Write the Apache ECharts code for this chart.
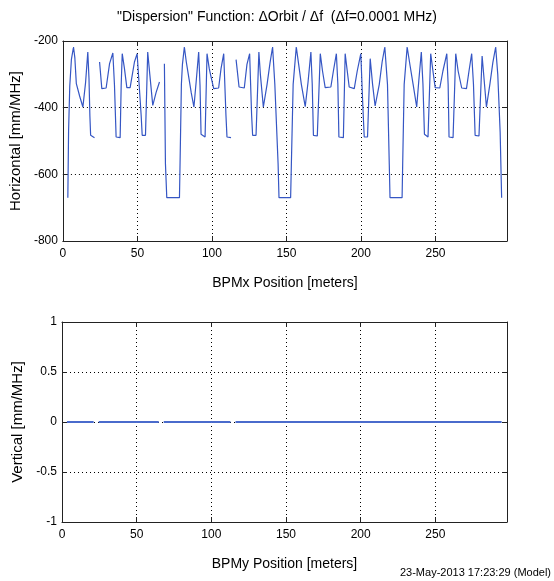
<!DOCTYPE html>
<html>
<head>
<meta charset="utf-8">
<script src="https://cdn.jsdelivr.net/npm/echarts@6/dist/echarts.min.js"></script>
<style>
html,body{margin:0;padding:0;background:#fff;}
#chart{width:554px;height:581px;}
</style>
</head>
<body>
<div id="chart"></div>
<script>
// BPM positions [m]; null marks a missing BPM (gap in the line)
var bpmX = [
  3.3,3.8,4.6,5.7,7.1,8.0,9.0,11.2,13.4,15.2,16.7,17.5,18.1,18.6,21.2,null,
  24.6,26.1,29.0,31.3,33.5,34.6,35.7,38.4,39.1,39.8,41.3,42.9,45.1,48.0,49.8,52.5,53.2,55.4,56.9,58.3,60.3,62.5,64.8,null,
  68.1,68.8,69.7,78.2,
  78.6,79.5,80.2,81.5,82.8,84.6,86.1,87.9,89.4,91.1,92.0,92.7,95.4,96.7,98.2,99.5,101.2,104.5,106.1,107.9,109.4,110.1,112.8,null,
  116.2,118.2,121.7,123.5,125.3,126.6,127.3,129.6,131.5,132.5,134.5,137.0,139.0,140.7,142.2,144.4,145.0,152.8,
  153.3,154.5,156.6,158.2,160.0,162.6,164.5,166.4,167.3,168.1,170.7,172.7,174.2,176.0,179.8,181.5,183.5,184.5,185.2,188.2,
  189.4,190.8,192.1,195.5,197.5,199.9,201.3,202.2,204.4,206.2,207.8,209.5,212.3,214.2,216.0,217.8,219.0,219.5,227.6,
  228.0,229.0,231.0,233.0,235.0,237.4,238.8,240.5,241.6,242.6,245.0,246.8,248.3,249.8,252.9,255.0,257.6,258.5,259.1,261.8,
  263.6,265.2,267.6,270.8,272.5,274.3,275.5,276.6,279.2,281.3,284.2,286.5,288.5,290.4,291.8,293.4,294.4
];
// Horizontal dispersion [mm/MHz]
var horiz = [
  -670,-470,-335,-255,-218,-250,-328,-365,-398,-325,-233,-313,-425,-483,-490,null,
  -263,-343,-341,-268,-236,-333,-488,-490,-333,-238,-283,-340,-340,-263,-238,-423,-483,-483,-233,-300,-393,-355,-323,null,
  -268,-568,-670,-670,
  -568,-330,-270,-218,-263,-313,-355,-398,-323,-233,-333,-480,-488,-238,-283,-310,-343,-341,-283,-238,-423,-488,-490,null,
  -256,-338,-341,-270,-238,-420,-483,-483,-233,-300,-398,-330,-265,-218,-330,-570,-670,-670,
  -570,-330,-218,-270,-330,-397,-323,-233,-330,-483,-485,-238,-290,-340,-338,-290,-238,-330,-488,-490,
  -238,-290,-338,-343,-290,-238,-400,-488,-488,-253,-330,-395,-330,-263,-218,-330,-570,-670,-670,
  -570,-330,-218,-275,-330,-398,-320,-233,-330,-480,-488,-238,-290,-340,-341,-290,-238,-330,-488,-490,
  -238,-290,-341,-343,-290,-238,-330,-483,-485,-245,-398,-330,-265,-218,-300,-473,-670
];
// Vertical dispersion [mm/MHz] (flat zero, same BPMs and gaps)
var vert = bpmX.map(function (x) { return x === null ? null : 0; });

var xTicks = [0, 50, 100, 150, 200, 250];
var hTicks = [-800, -600, -400, -200];
var vTicks = [-1, -0.5, 0, 0.5, 1];

function pairs(xs, ys) {
  return xs.map(function (x, i) {
    return (x === null || ys[i] === null) ? ['-', '-'] : [x, ys[i]];
  });
}

var FONT = "'Liberation Sans Narrow','Liberation Sans',Arial,sans-serif";
var AX = '#222';
var LINE = '#3556c4';

function xAx(gi, pos, labels, name) {
  return {
    type: 'value', gridIndex: gi, position: pos, min: 0, max: 298, interval: 50,
    axisLine: {show: true, onZero: false, lineStyle: {color: AX, width: 1}},
    axisTick: {show: true, inside: true, length: 5, lineStyle: {color: AX}},
    axisLabel: {show: labels, color: '#000', fontSize: 12, fontFamily: FONT, margin: 7,
      formatter: function (v) { return xTicks.indexOf(v) >= 0 ? String(v) : ''; }},
    splitLine: {show: labels, lineStyle: {color: '#000', type: [1, 3], width: 1}},
    name: labels ? name : '', nameLocation: 'middle', nameGap: 35,
    nameTextStyle: {color: '#000', fontSize: 14, fontFamily: FONT}
  };
}
function yAx(gi, pos, labels, mn, mx, iv, name, ticks) {
  return {
    type: 'value', gridIndex: gi, position: pos, min: mn, max: mx, interval: iv,
    axisLine: {show: true, onZero: false, lineStyle: {color: AX, width: 1}},
    axisTick: {show: true, inside: true, length: 5, lineStyle: {color: AX}},
    axisLabel: {show: labels, color: '#000', fontSize: 12, fontFamily: FONT, margin: 5,
      formatter: function (v) { return ticks.indexOf(v) >= 0 ? String(v) : ''; }},
    splitLine: {show: labels, lineStyle: {color: '#000', type: [1, 3], width: 1}},
    name: labels ? name : '', nameLocation: 'middle', nameGap: 37,
    nameTextStyle: {color: '#000', fontSize: 15, fontFamily: FONT}
  };
}

var chart = echarts.init(document.getElementById('chart'), null, {renderer: 'canvas'});
chart.setOption({
  animation: false,
  backgroundColor: '#fff',
  grid: [
    {left: 62, right: 47, top: 41, height: 200},
    {left: 62, right: 47, top: 322, height: 200}
  ],
  xAxis: [
    xAx(0, 'bottom', true, 'BPMx Position [meters]'),
    xAx(0, 'top', false, ''),
    xAx(1, 'bottom', true, 'BPMy Position [meters]'),
    xAx(1, 'top', false, '')
  ],
  yAxis: [
    yAx(0, 'left', true, -800, -200, 200, 'Horizontal [mm/MHz]', hTicks),
    yAx(0, 'right', false, -800, -200, 200, '', hTicks),
    yAx(1, 'left', true, -1, 1, 0.5, 'Vertical [mm/MHz]', vTicks),
    yAx(1, 'right', false, -1, 1, 0.5, '', vTicks)
  ],
  series: [
    {type: 'line', xAxisIndex: 0, yAxisIndex: 0, data: pairs(bpmX, horiz), z: 5,
     showSymbol: false, connectNulls: false, lineStyle: {color: LINE, width: 1.2}},
    {type: 'line', xAxisIndex: 2, yAxisIndex: 2, data: pairs(bpmX, vert), z: 5,
     showSymbol: false, connectNulls: false, lineStyle: {color: '#4a6bcc', width: 2.2}}
  ],
  graphic: [
    {type: 'text', left: 'center', top: 10, style: {
      text: '"Dispersion" Function: \u0394Orbit / \u0394f  (\u0394f=0.0001 MHz)',
      fill: '#000', fontSize: 14, fontFamily: FONT}, x: 8},
    {type: 'text', right: 3, top: 567, style: {
      text: '23-May-2013 17:23:29 (Model)', fill: '#000', fontSize: 11, fontFamily: FONT}}
  ]
});
</script>
</body>
</html>
